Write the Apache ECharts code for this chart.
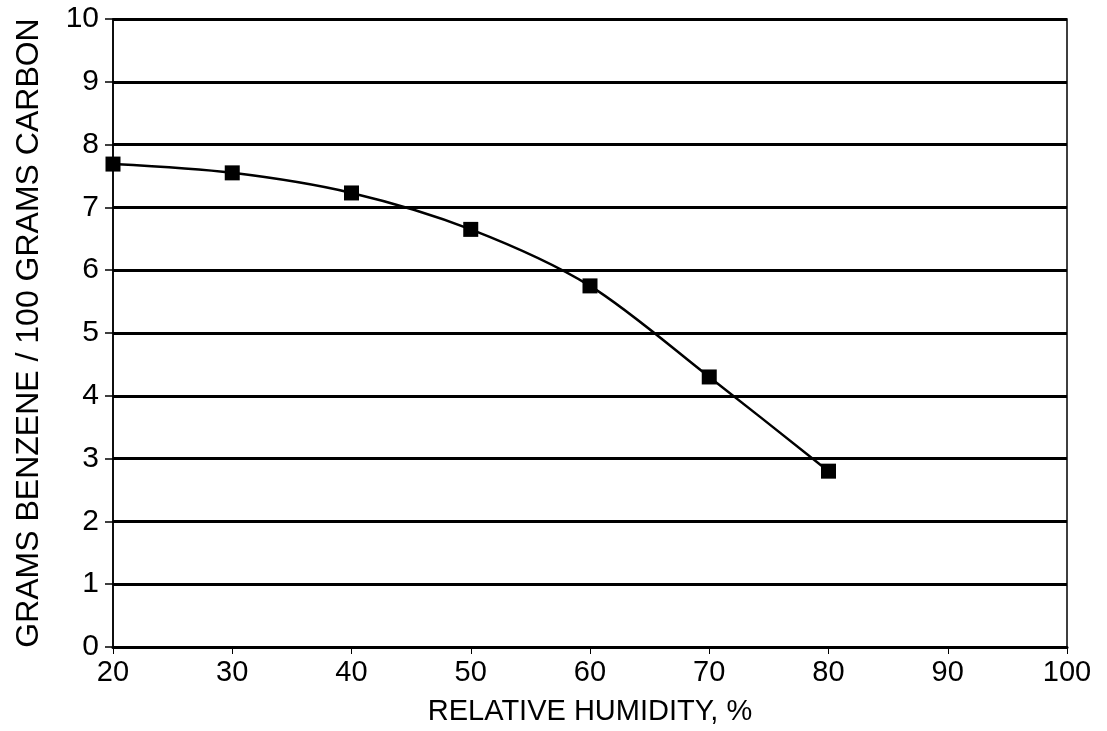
<!DOCTYPE html>
<html>
<head>
<meta charset="utf-8">
<script src="https://cdn.jsdelivr.net/npm/echarts@6/dist/echarts.min.js"></script>
<style>
  html, body { margin: 0; padding: 0; background: #fff; }
  #chart { width: 1107px; height: 731px; }
</style>
</head>
<body>
<div id="chart"></div>
<script>
// relative humidity (%) vs benzene loading
const humidity = [20, 30, 40, 50, 60, 70, 80]
const benzene = [7.69, 7.55, 7.23, 6.65, 5.75, 4.3, 2.8]

const xTicks = { min: 20, max: 100, interval: 10 }
const yTicks = { min: 0, max: 10, interval: 1 }

const font = '"Liberation Sans", Arial, sans-serif'

const genOption = () => {
    const points = humidity.map((h, i) => [h, benzene[i]])
    return {
        animation: false,
        backgroundColor: '#fff',
        grid: {
            left: 113,
            right: 40,
            top: 19,
            bottom: 83,
            show: true,
            borderColor: '#000',
            borderWidth: 1.5
        },
        xAxis: {
            type: 'value',
            min: xTicks.min,
            max: xTicks.max,
            interval: xTicks.interval,
            name: 'RELATIVE HUMIDITY, %',
            nameLocation: 'middle',
            nameGap: 50,
            nameTextStyle: { color: '#000', fontSize: 29, fontFamily: font },
            axisLine: { show: true, lineStyle: { color: '#000', width: 3 } },
            axisTick: { show: true, length: 7, lineStyle: { color: '#000', width: 1 } },
            axisLabel: { color: '#000', fontSize: 29, fontFamily: font, margin: 11 },
            splitLine: { show: false }
        },
        yAxis: {
            type: 'value',
            min: yTicks.min,
            max: yTicks.max,
            interval: yTicks.interval,
            name: 'GRAMS BENZENE / 100 GRAMS CARBON',
            nameLocation: 'middle',
            nameGap: 68,
            nameTextStyle: { color: '#000', fontSize: 32, fontFamily: font },
            axisLine: { show: true, lineStyle: { color: '#000', width: 1.5 } },
            axisTick: { show: true, length: 8, lineStyle: { color: '#000', width: 1.5 } },
            axisLabel: { color: '#000', fontSize: 30, fontFamily: font, margin: 14 },
            splitLine: { show: true, lineStyle: { color: '#000', width: 3 } }
        },
        series: [
            {
                type: 'line',
                data: points,
                smooth: 0.3,
                symbol: 'rect',
                symbolSize: 15,
                lineStyle: { color: '#000', width: 2.5 },
                itemStyle: { color: '#000' }
            }
        ]
    }
}

const myChart = echarts.init(document.getElementById('chart'))
myChart.setOption(genOption())
</script>
</body>
</html>
